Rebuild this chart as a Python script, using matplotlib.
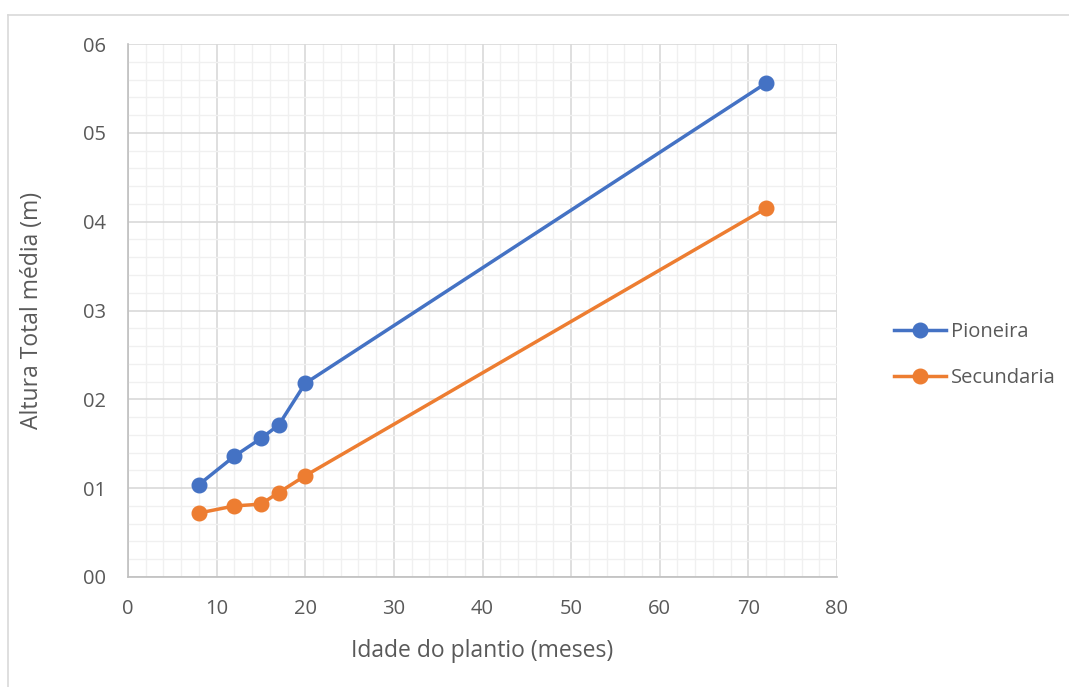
import matplotlib.pyplot as plt
from matplotlib.lines import Line2D
from matplotlib.ticker import MultipleLocator, FuncFormatter

# Data
idade = [8, 12, 15, 17, 20, 72]
pioneira = [1.04, 1.36, 1.56, 1.71, 2.18, 5.56]
secundaria = [0.72, 0.80, 0.82, 0.95, 1.14, 4.15]

plt.rcParams['font.family'] = ['Open Sans', 'DejaVu Sans']
txt = '#595959'
blue = '#4472C4'
orange = '#ED7D31'

fig = plt.figure(figsize=(10.69, 6.87), dpi=100)
ax = fig.add_axes([128 / 1069, 1 - 577 / 687, (837 - 128) / 1069, (577 - 44) / 687])

ax.plot(idade, pioneira, color=blue, lw=2.5, marker='o', ms=10.5, label='Pioneira', zorder=3)
ax.plot(idade, secundaria, color=orange, lw=2.5, marker='o', ms=10.5, label='Secundaria', zorder=3)

ax.set_xlim(0, 80)
ax.set_ylim(0, 6)
ax.xaxis.set_major_locator(MultipleLocator(10))
ax.xaxis.set_minor_locator(MultipleLocator(2))
ax.yaxis.set_major_locator(MultipleLocator(1))
ax.yaxis.set_minor_locator(MultipleLocator(0.2))
ax.yaxis.set_major_formatter(FuncFormatter(lambda v, p: '0%d' % round(v)))

ax.grid(which='major', color='#D9D9D9', lw=1.2)
ax.grid(which='minor', color='#F0F0F0', lw=1.0)
ax.set_axisbelow(True)
for s in ['top', 'right']:
    ax.spines[s].set_visible(False)
for s in ['left', 'bottom']:
    ax.spines[s].set_color('#BFBFBF')
    ax.spines[s].set_linewidth(1.2)
ax.tick_params(which='both', length=0, colors=txt, labelsize=14.5)
ax.tick_params(axis='x', pad=16)
ax.tick_params(axis='y', pad=16)

ax.set_xlabel('Idade do plantio (meses)', color=txt, fontsize=16.5, labelpad=14)
ax.set_ylabel('Altura Total média (m)', color=txt, fontsize=16.5, labelpad=28)

ax.legend(loc='center left', bbox_to_anchor=(1.055, 0.417), frameon=False,
          fontsize=14.5, labelcolor=txt, handlelength=2.6, handletextpad=0.2,
          labelspacing=1.3)

# chart area border (top and left edges visible)
fig.add_artist(Line2D([8 / 1069, 1], [1 - 15 / 687] * 2, color='#D9D9D9', lw=1.2))
fig.add_artist(Line2D([8 / 1069] * 2, [0, 1 - 15 / 687], color='#D9D9D9', lw=1.2))

fig.savefig('out.png', dpi=100)
